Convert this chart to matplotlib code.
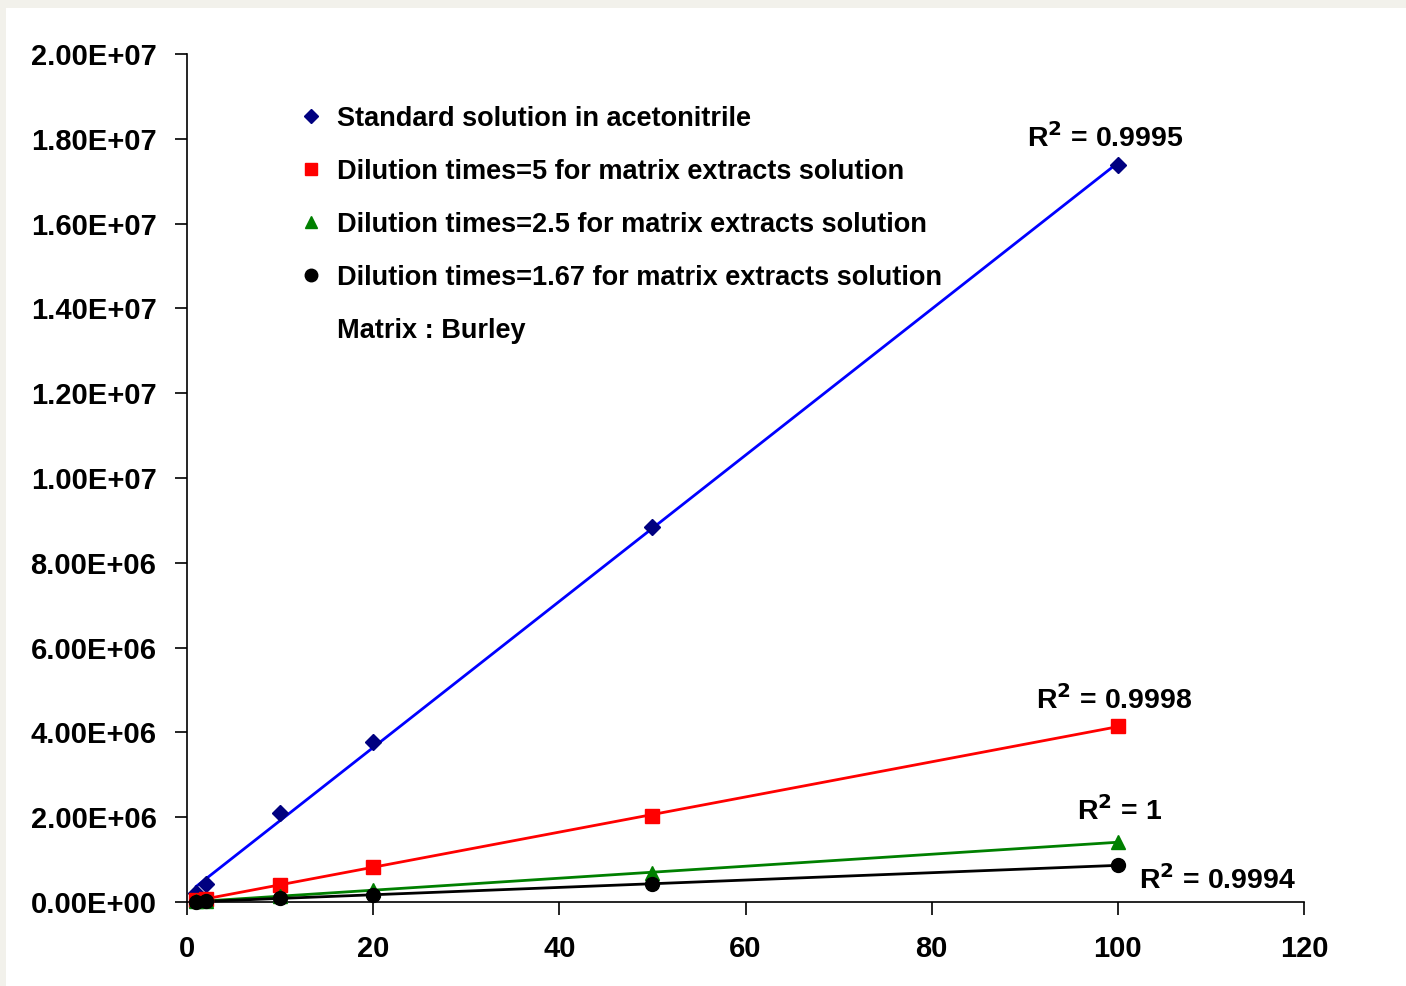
#!/usr/bin/env python3
"""
Calibration curves: standard in acetonitrile vs matrix extracts (Burley).
"""

import numpy as np
import matplotlib
matplotlib.use("Agg")
import matplotlib.pyplot as plt
from matplotlib.lines import Line2D
from matplotlib.patches import Rectangle

plt.rcParams["font.family"] = ["Liberation Sans", "DejaVu Sans"]
plt.rcParams["font.weight"] = "bold"

# concentration levels
conc = [1, 2, 10, 20, 50, 100]

# peak areas
std_acn = [0.21e6, 0.42e6, 2.10e6, 3.77e6, 8.84e6, 17.38e6]
dil_5 = [0.04e6, 0.08e6, 0.40e6, 0.83e6, 2.03e6, 4.15e6]
dil_25 = [0.014e6, 0.028e6, 0.14e6, 0.28e6, 0.68e6, 1.42e6]
dil_167 = [0.009e6, 0.017e6, 0.085e6, 0.17e6, 0.42e6, 0.87e6]

labels = [
    "Standard solution in acetonitrile",
    "Dilution times=5 for matrix extracts solution",
    "Dilution times=2.5 for matrix extracts solution",
    "Dilution times=1.67 for matrix extracts solution",
]
r2_text = ["R$^2$ = 0.9995", "R$^2$ = 0.9998", "R$^2$ = 1", "R$^2$ = 0.9994"]
r2_pos = [(98.6, 18.02e6), (99.6, 4.76e6), (100.2, 2.15e6), (110.7, 0.52e6)]

series = [std_acn, dil_5, dil_25, dil_167]
markers = ["D", "s", "^", "o"]
marker_colors = ["#000080", "#ff0000", "#008000", "#000000"]
line_colors = ["#0000ff", "#ff0000", "#008000", "#000000"]
marker_sizes = [8, 10, 10, 10]

fig = plt.figure(figsize=(14.06, 9.86), dpi=100)
fig.patch.set_facecolor("#f2f1eb")
fig.patches.append(Rectangle((6 / 1406, 0), 1.0, 1 - 8 / 986,
                             transform=fig.transFigure, facecolor="white",
                             edgecolor="none", zorder=-10))

ax = fig.add_axes([187 / 1406, 84 / 986, (1304 - 187) / 1406, (902 - 54) / 986])
ax.set_facecolor("none")

x = np.array(conc, dtype=float)
for ys, mk, mc, lc, ms in zip(series, markers, marker_colors, line_colors, marker_sizes):
    slope, icpt = np.polyfit(x, ys, 1)
    xl = np.array([x.min(), x.max()])
    ax.plot(xl, slope * xl + icpt, color=lc, lw=2, zorder=2, clip_on=False)
    ax.plot(x, ys, linestyle="none", marker=mk, color=mc, markersize=ms,
            zorder=3, clip_on=False)

for txt, (tx, ty) in zip(r2_text, r2_pos):
    ax.text(tx, ty, txt, ha="center", va="center", fontsize=20.5, fontweight="bold")

ax.set_xlim(0, 120)
ax.set_ylim(0, 2.0e7)
ax.set_xticks(np.arange(0, 121, 20))
ax.set_yticks(np.arange(0, 2.01e7, 2e6))
ax.set_yticklabels([f"{v:.2E}" for v in np.arange(0, 2.01e7, 2e6)])

for side in ["top", "right"]:
    ax.spines[side].set_visible(False)
for side in ["left", "bottom"]:
    ax.spines[side].set_linewidth(1.2)

ax.tick_params(axis="both", direction="out", length=9, width=1.2,
               labelsize=21)
ax.tick_params(axis="y", pad=13)
ax.tick_params(axis="x", pad=15)
for lbl in ax.get_xticklabels() + ax.get_yticklabels():
    lbl.set_fontweight("bold")

handles = [Line2D([], [], linestyle="none", marker=mk, color=mc, markersize=s)
           for mk, mc, s in zip(markers, marker_colors, [7, 9, 8, 9])]
handles.append(Line2D([], [], linestyle="none"))
leg = ax.legend(handles, labels + ["Matrix : Burley"], loc="upper left",
                bbox_to_anchor=(284 / 1406, 1 - 92 / 986),
                bbox_transform=fig.transFigure, frameon=False,
                fontsize=19.5, labelspacing=1.0, handletextpad=0.45,
                handlelength=1.0, borderpad=0)
for t in leg.get_texts():
    t.set_fontweight("bold")

fig.savefig("out.png", dpi=100, facecolor=fig.get_facecolor())
